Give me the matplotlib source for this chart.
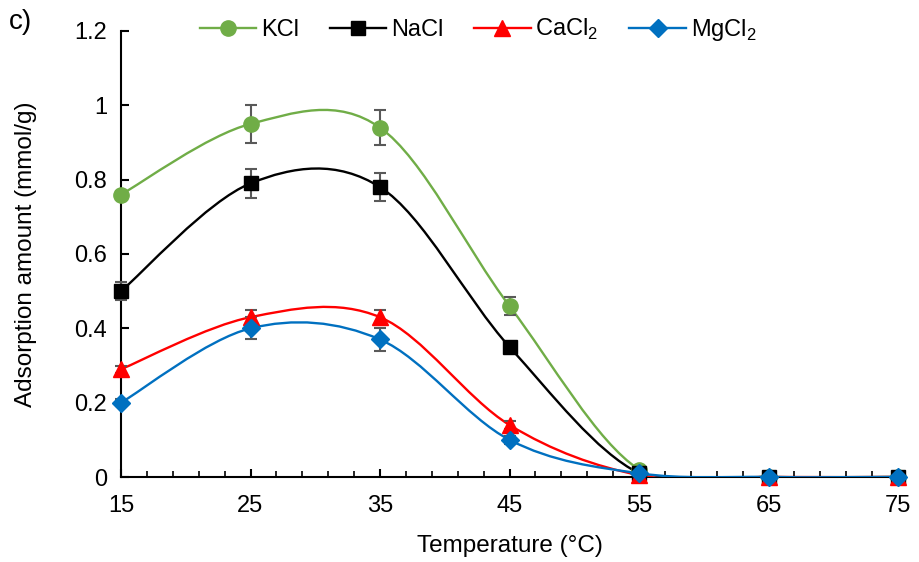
import numpy as np
import matplotlib
matplotlib.use('Agg')
import matplotlib.pyplot as plt
from matplotlib.path import Path
from matplotlib.patches import PathPatch
from matplotlib.ticker import MultipleLocator, FixedLocator, FuncFormatter

plt.rcParams['font.family'] = ['Liberation Sans', 'DejaVu Sans']
plt.rcParams['font.size'] = 17

temp = [15, 25, 35, 45, 55, 65, 75]

kcl = [0.76, 0.95, 0.94, 0.46, 0.02, 0, 0]
nacl = [0.50, 0.79, 0.78, 0.35, 0.01, 0, 0]
cacl2 = [0.29, 0.43, 0.43, 0.14, 0.005, 0, 0]
mgcl2 = [0.20, 0.40, 0.37, 0.10, 0.01, 0, 0]

kcl_err = [0.01, 0.05, 0.047, 0.023, 0.01, 0, 0]
nacl_err = [0.024, 0.038, 0.037, 0.01, 0.005, 0, 0]
cacl2_err = [0.01, 0.02, 0.02, 0.01, 0, 0, 0]
mgcl2_err = [0.01, 0.03, 0.03, 0.01, 0, 0, 0]

labels = ['KCl', 'NaCl', r'CaCl$_\mathregular{2}$', r'MgCl$_\mathregular{2}$']
series = [kcl, nacl, cacl2, mgcl2]
errors = [kcl_err, nacl_err, cacl2_err, mgcl2_err]
colors = ['#70AD47', '#000000', '#FF0000', '#0070C0']
markers = ['o', 's', '^', 'D']
msizes = [11, 10.5, 11, 9]


def smooth_path(x, y):
    # excel-like smoothed line: cubic bezier, catmull-rom control points
    p = np.column_stack([x, y]).astype(float)
    n = len(p)
    verts = [p[0]]
    codes = [Path.MOVETO]
    for i in range(n - 1):
        p0 = p[i - 1] if i > 0 else p[i]
        p3 = p[i + 2] if i + 2 < n else p[i + 1]
        c1 = p[i] + (p[i + 1] - p0) / 6
        c2 = p[i + 1] - (p3 - p[i]) / 6
        verts += [c1, c2, p[i + 1]]
        codes += [Path.CURVE4] * 3
    return Path(verts, codes)


fig = plt.figure(figsize=(9.19, 5.62), dpi=100)
ax = fig.add_axes([121 / 919, 1 - 477 / 562, (898 - 121) / 919, (477 - 31) / 562])

handles = []
for y, e, c, m, ms, lab in zip(series, errors, colors, markers, msizes, labels):
    patch = PathPatch(smooth_path(temp, y), facecolor='none', edgecolor=c,
                      lw=1.7, zorder=2)
    ax.add_patch(patch)
    ax.errorbar(temp, y, yerr=e, fmt='none', ecolor='#595959', elinewidth=1.5,
                capsize=4, capthick=1.5, zorder=3, clip_on=False)
    ax.plot(temp, y, linestyle='none', marker=m, markersize=ms, color=c,
            clip_on=False, zorder=4)
    lh, = ax.plot([], [], '-', color=c, lw=1.7, marker=m, markersize=ms, label=lab)
    handles.append(lh)

ax.set_xlim(15, 75)
ax.set_ylim(0, 1.2)
ax.set_xticks(temp)
ax.xaxis.set_minor_locator(FixedLocator(np.arange(15, 76, 2)))
ax.yaxis.set_major_locator(MultipleLocator(0.2))
ax.yaxis.set_major_formatter(FuncFormatter(lambda v, p: '{:g}'.format(round(v, 1))))

for s in ['top', 'right']:
    ax.spines[s].set_visible(False)
for s in ['left', 'bottom']:
    ax.spines[s].set_linewidth(1.5)
    ax.spines[s].set_zorder(1)

ax.tick_params(axis='x', which='major', direction='in', length=6, width=1.5, pad=13, labelsize=17)
ax.tick_params(axis='x', which='minor', direction='in', length=4, width=1.2)
ax.tick_params(axis='y', which='major', direction='in', length=6, width=1.5, pad=10, labelsize=17)

ax.set_xlabel('Temperature (°C)', fontsize=17.5, labelpad=13)
ax.set_ylabel('Adsorption amount (mmol/g)', fontsize=17.5, labelpad=27)

fig.legend(handles=handles, labels=labels, loc='center', ncol=4,
           bbox_to_anchor=(478 / 919, 1 - 30 / 562), frameon=False,
           handlelength=2.4, columnspacing=1.3, handletextpad=0.2, fontsize=17)

fig.text(9 / 919, 1 - 22 / 562, 'c)', fontsize=20, va='center', ha='left')

fig.savefig('out.png', dpi=100)
